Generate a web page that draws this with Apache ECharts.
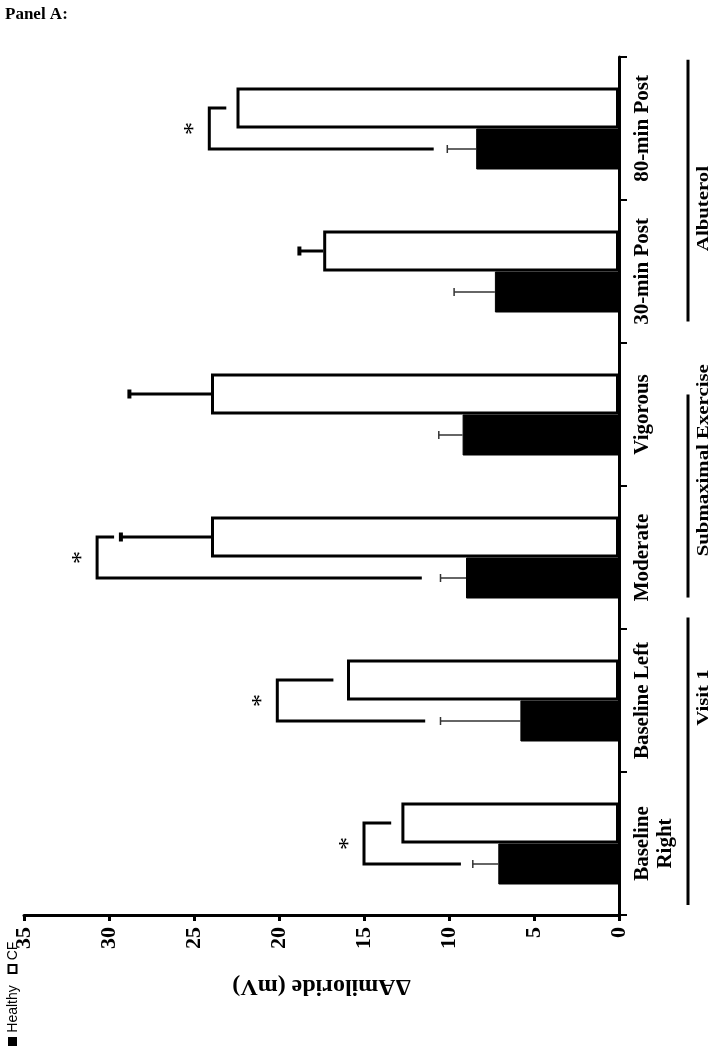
<!DOCTYPE html>
<html>
<head>
<meta charset="utf-8">
<title>Panel A</title>
<script src="https://cdn.jsdelivr.net/npm/echarts@6.0.0/dist/echarts.min.js"></script>
<style>
  html, body { margin: 0; padding: 0; background: #fff; }
  #main { width: 718px; height: 1050px; }
</style>
</head>
<body>
<div id="main"></div>
<script>
// data (mV)
const categories = ['Baseline\nRight', 'Baseline Left', 'Moderate', 'Vigorous', '30-min Post', '80-min Post']
const healthy = [7.1, 5.8, 9.0, 9.2, 7.3, 8.4]
const healthyErr = [1.5, 4.7, 1.5, 1.4, 2.4, 1.7]
const cf = [12.8, 16.0, 24.0, 24.0, 17.4, 22.5]
const cfErr = [0, 0, 5.3, 4.8, 1.4, 0]

// significance brackets: category, bracket level, CF arm end, Healthy arm end
const sigCat = [0, 1, 2, 5]
const sigLevel = [15.0, 20.1, 30.7, 24.1]
const sigCfEnd = [13.4, 16.8, 29.7, 23.1]
const sigHealthyEnd = [9.3, 11.4, 11.6, 10.9]

const groups = ['Visit 1', 'Submaximal Exercise', 'Albuterol']
const axisMin = 0
const axisMax = 35
const axisStep = 5

const SERIF = '"Liberation Serif", "Times New Roman", serif'
const HALF = 20.5 // half of one bar's thickness

const chart = echarts.init(document.getElementById('main'))

// Healthy sits below the category centre (+), CF above (-)
function errorItem(side) {
  return function (params, api) {
    const v = api.value(0)
    const i = api.value(1)
    const e = api.value(2)
    if (!e) return null
    const p0 = api.coord([v, i])
    const p1 = api.coord([v + e, i])
    const y = p0[1] + side * HALF
    const thin = side > 0
    const cap = thin ? 4 : 4.5
    return {
      type: 'group',
      children: [
        { type: 'line', shape: { x1: p0[0], y1: y, x2: p1[0], y2: y },
          style: { stroke: thin ? '#333' : '#000', lineWidth: thin ? 1.5 : 3 } },
        { type: 'line', shape: { x1: p1[0], y1: y - cap, x2: p1[0], y2: y + cap },
          style: { stroke: thin ? '#333' : '#000', lineWidth: thin ? 1.5 : 4 } }
      ]
    }
  }
}

function bracketItem(params, api) {
  const i = api.value(1)
  const lvl = api.coord([api.value(0), i])
  const cfEnd = api.coord([api.value(2), i])
  const hEnd = api.coord([api.value(3), i])
  const yc = lvl[1] - HALF
  const yh = lvl[1] + HALF
  return {
    type: 'group',
    children: [
      { type: 'polyline',
        shape: { points: [[cfEnd[0], yc], [lvl[0], yc], [lvl[0], yh], [hEnd[0], yh]] },
        style: { stroke: '#000', lineWidth: 3, fill: null } },
      { type: 'text', x: lvl[0] - 15, y: lvl[1], rotation: Math.PI / 2,
        style: { text: '*', font: '26px ' + SERIF, fill: '#000',
          align: 'center', verticalAlign: 'middle', textAlign: 'center', textVerticalAlign: 'middle' } }
    ]
  }
}

const option = {
  animation: false,
  backgroundColor: '#fff',
  title: {
    text: 'Panel A:',
    left: 0,
    top: 1,
    textStyle: { fontFamily: SERIF, fontWeight: 'bold', fontSize: 17, color: '#000' }
  },
  grid: { left: 24, right: 99, top: 57, bottom: 135 },
  xAxis: {
    type: 'value',
    inverse: true,
    min: axisMin,
    max: axisMax,
    interval: axisStep,
    name: 'ΔAmiloride (mV)',
    nameLocation: 'middle',
    nameRotate: 180,
    nameGap: 59,
    nameTextStyle: { fontFamily: SERIF, fontWeight: 'bold', fontSize: 24, color: '#000' },
    axisLine: { show: true, lineStyle: { color: '#000', width: 3 } },
    axisTick: { show: true, length: 6, lineStyle: { color: '#000', width: 3 } },
    axisLabel: { rotate: 90, margin: 12, fontFamily: SERIF, fontWeight: 'bold', fontSize: 22, color: '#000' },
    splitLine: { show: false }
  },
  yAxis: {
    type: 'category',
    data: categories,
    position: 'right',
    axisLine: { show: true, lineStyle: { color: '#000', width: 3 } },
    axisTick: { show: true, length: 8, lineStyle: { color: '#000', width: 2 } },
    axisLabel: { interval: 0, hideOverlap: false, rotate: 90, margin: 12, fontFamily: SERIF,
      fontWeight: 'bold', fontSize: 21, lineHeight: 23, color: '#000' }
  },
  series: [
    // CF listed first so that it lands above the Healthy bar in each category
    {
      name: 'CF',
      type: 'bar',
      data: cf,
      barWidth: 41,
      barGap: '0%',
      itemStyle: { color: '#fff', borderColor: '#000', borderWidth: 3 }
    },
    {
      name: 'Healthy',
      type: 'bar',
      data: healthy,
      barWidth: 41,
      barGap: '0%',
      itemStyle: { color: '#000', borderColor: '#000', borderWidth: 1 }
    },
    {
      name: 'Healthy SEM',
      type: 'custom',
      renderItem: errorItem(1),
      encode: { x: 0, y: 1 },
      data: healthy.map((v, i) => [v, i, healthyErr[i]]),
      z: 3
    },
    {
      name: 'CF SEM',
      type: 'custom',
      renderItem: errorItem(-1),
      encode: { x: 0, y: 1 },
      data: cf.map((v, i) => [v, i, cfErr[i]]),
      z: 3
    },
    {
      name: 'p < 0.05',
      type: 'custom',
      renderItem: bracketItem,
      encode: { x: 0, y: 1 },
      data: sigCat.map((c, k) => [sigLevel[k], c, sigCfEnd[k], sigHealthyEnd[k]]),
      z: 4
    }
  ]
}

chart.setOption(option)

// group lines and labels beside the category axis, placed in category units
const yA = chart.convertToPixel({ yAxisIndex: 0 }, 0)
const yB = chart.convertToPixel({ yAxisIndex: 0 }, 1)
const band = yA - yB
const atCat = pos => yA - band * pos
const groupSpan = [[-0.43, 1.58, 1.02], [1.72, 3.14, 2.68], [3.65, 5.48, 4.44]]
const lineX = 688
const textX = 704

function vText(text, x, y, font, sx) {
  return {
    type: 'text', x: x, y: y, rotation: Math.PI / 2, scaleX: sx || 1,
    style: { text: text, font: font, fill: '#000', align: 'center', verticalAlign: 'middle',
      textAlign: 'center', textVerticalAlign: 'middle' }
  }
}

const graphics = []
groups.forEach((g, k) => {
  const s = groupSpan[k]
  graphics.push({ type: 'line', shape: { x1: lineX, y1: atCat(s[0]), x2: lineX, y2: atCat(s[1]) },
    style: { stroke: '#000', lineWidth: 3 } })
  graphics.push(vText(g, textX, atCat(s[2]), 'bold 16px ' + SERIF, 1.3))
})

// legend key
const SANS = '"Liberation Sans", Arial, sans-serif'
graphics.push({ type: 'rect', shape: { x: 8, y: 1037, width: 9, height: 9 }, style: { fill: '#000' } })
graphics.push(vText('Healthy', 13, 1009, '14px ' + SANS))
graphics.push({ type: 'rect', shape: { x: 8.5, y: 965, width: 8, height: 8 },
  style: { fill: '#fff', stroke: '#000', lineWidth: 2 } })
graphics.push(vText('CF', 13, 951, '14px ' + SANS))

chart.setOption({ graphic: graphics })
</script>
</body>
</html>
